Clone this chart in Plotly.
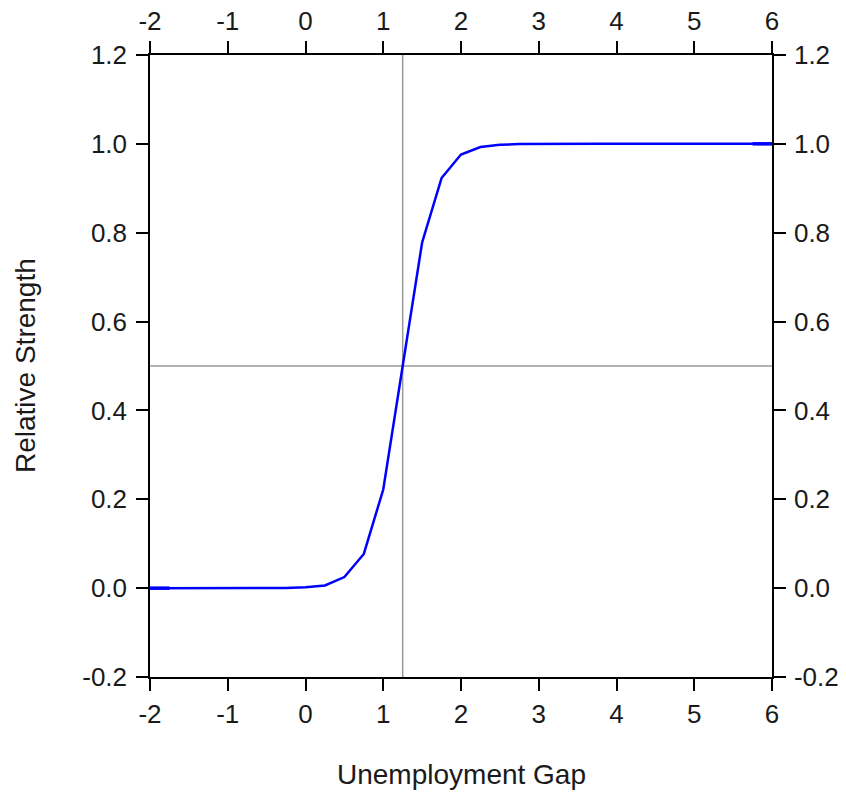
import plotly.graph_objects as go

# Data
gap = [-2.0, -1.75, -1.5, -1.25, -1.0, -0.75, -0.5, -0.25, 0.0, 0.25, 0.5, 0.75, 1.0, 1.25,
       1.5, 1.75, 2.0, 2.25, 2.5, 2.75, 3.0, 3.25, 3.5, 3.75, 4.0, 4.25, 4.5, 4.75, 5.0,
       5.25, 5.5, 5.75, 6.0]
strength = [0.0, 0.0, 0.0, 0.0, 0.0, 0.0, 0.0, 0.0005, 0.002, 0.006, 0.025, 0.077, 0.222, 0.5,
            0.778, 0.923, 0.976, 0.993, 0.998, 0.9995, 1.0, 1.0, 1.0, 1.0, 1.0, 1.0, 1.0, 1.0, 1.0,
            1.0, 1.0, 1.0, 1.0]
ref_x = 1.25
ref_y = 0.5
x_ticks = [-2, -1, 0, 1, 2, 3, 4, 5, 6]
x_tick_text = ["-2", "-1", "0", "1", "2", "3", "4", "5", "6"]
y_ticks = [-0.2, 0.0, 0.2, 0.4, 0.6, 0.8, 1.0, 1.2]
y_tick_text = ["-0.2", "0.0", "0.2", "0.4", "0.6", "0.8", "1.0", "1.2"]
x_range = [-2, 6]
y_range = [-0.2, 1.2]
x_title = "Unemployment Gap"
y_title = "Relative Strength"

FONT = "Liberation Sans, Arial, sans-serif"
TXT = "#1a1a1a"

fig = go.Figure()
fig.add_trace(go.Scatter(x=gap, y=strength, mode="lines",
                         line=dict(color="#0000ff", width=2.5), showlegend=False))
# slightly heavier end segments as in the original rendering
fig.add_trace(go.Scatter(x=gap[:2], y=strength[:2], mode="lines",
                         line=dict(color="#0000ff", width=3.5), showlegend=False))
fig.add_trace(go.Scatter(x=gap[-2:], y=strength[-2:], mode="lines",
                         line=dict(color="#0000ff", width=3.5), showlegend=False))
# invisible trace for the mirrored labelled axes
fig.add_trace(go.Scatter(x=x_range, y=y_range, mode="lines", xaxis="x2", yaxis="y2",
                         line=dict(width=0), opacity=0, showlegend=False, hoverinfo="skip"))

fig.add_shape(type="line", xref="x", yref="y", x0=ref_x, x1=ref_x, y0=y_range[0], y1=y_range[1],
              line=dict(color="#999999", width=1.5), layer="below")
fig.add_shape(type="line", xref="x", yref="y", x0=x_range[0], x1=x_range[1], y0=ref_y, y1=ref_y,
              line=dict(color="#999999", width=1.5), layer="below")

axis_common = dict(showgrid=False, zeroline=False, showline=True, linecolor="black", linewidth=1.5,
                   ticks="outside", ticklen=12, tickwidth=1.5, tickcolor="black", automargin=False,
                   tickfont=dict(family=FONT, size=26, color=TXT))

fig.update_layout(
    width=830, height=783,
    margin=dict(l=142, r=66, t=47, b=114),
    paper_bgcolor="white", plot_bgcolor="white",
    font=dict(family=FONT, color=TXT),
    xaxis=dict(range=x_range, tickvals=x_ticks, ticktext=x_tick_text, side="bottom",
               ticklabelstandoff=1, **axis_common),
    yaxis=dict(range=y_range, tickvals=y_ticks, ticktext=y_tick_text, side="left",
               ticklabelstandoff=4, **axis_common),
    xaxis2=dict(range=x_range, tickvals=x_ticks, ticktext=x_tick_text, overlaying="x", side="top",
                anchor="y2", ticklabelstandoff=1, **axis_common),
    yaxis2=dict(range=y_range, tickvals=y_ticks, ticktext=y_tick_text, overlaying="y",
                side="right", anchor="x2", ticklabelstandoff=3, **axis_common),
)

# axis titles
fig.add_annotation(text=x_title, xref="paper", yref="paper", x=0.5, y=0,
                   xanchor="center", yanchor="middle", yshift=-97, showarrow=False,
                   font=dict(family=FONT, size=28, color=TXT))
fig.add_annotation(text=y_title, xref="paper", yref="paper", x=0, y=0.5, textangle=-90,
                   xanchor="center", yanchor="middle", xshift=-125, showarrow=False,
                   font=dict(family=FONT, size=28, color=TXT))

fig.write_html("out.html")
